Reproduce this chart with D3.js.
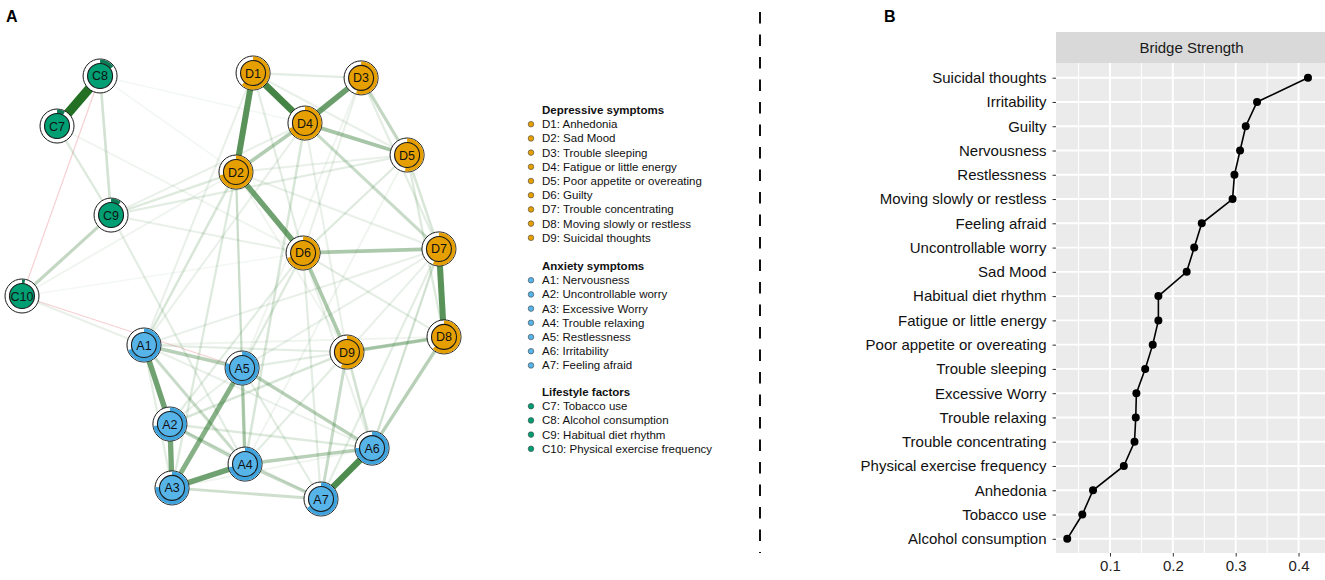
<!DOCTYPE html>
<html><head><meta charset="utf-8">
<script src="https://cdn.jsdelivr.net/npm/d3@7"></script>
<style>
html,body{margin:0;padding:0;background:#fff;}
svg{display:block;font-family:"Liberation Sans",Arial,sans-serif;}
</style></head>
<body><svg id="c" width="1325" height="580"></svg>
<script>
// ---------- Panel A data ----------
const nodeIds   = ["D1","D2","D3","D4","D5","D6","D7","D8","D9","A1","A2","A3","A4","A5","A6","A7","C7","C8","C9","C10"];
const nodeGroup = ["D","D","D","D","D","D","D","D","D","A","A","A","A","A","A","A","C","C","C","C"];
// spring-layout coordinates (qgraph layout space, -1..1, y up)
const layoutX = [0.095,0.014,0.607,0.341,0.825,0.332,0.976,1.000,0.540,-0.422,-0.299,-0.289,0.057,0.043,0.659,0.417,-0.834,-0.630,-0.578,-1.000];
const layoutY = [1.000,0.535,0.977,0.765,0.615,0.155,0.174,-0.239,-0.310,-0.277,-0.648,-0.948,-0.836,-0.385,-0.761,-1.000,0.751,0.986,0.333,-0.047];
// predictability (pie)
const predictability = [0.62,0.72,0.55,0.70,0.52,0.70,0.56,0.62,0.56,0.70,0.73,0.76,0.72,0.80,0.75,0.66,0.08,0.15,0.10,0.03];
// edges: [from, to, weight]
const edges = [
 ["C7","C8",0.50],["D1","D4",0.34],["D1","D2",0.30],["D3","D4",0.27],["D2","D6",0.26],["D7","D8",0.30],
 ["A6","A7",0.32],["A1","A2",0.26],["A2","A3",0.25],["A3","A4",0.26],["A3","A5",0.22],
 ["D4","D5",0.16],["D2","D4",0.14],["D6","D7",0.15],["D6","D9",0.15],["D8","D9",0.14],["D8","A6",0.13],
 ["A1","A5",0.13],["A4","A5",0.13],["A5","A6",0.13],["A4","A6",0.13],["A4","A7",0.11],["A2","A4",0.12],
 ["A1","A4",0.10],["A3","A7",0.09],["D9","A7",0.10],["D9","A6",0.08],["D4","D7",0.10],["D3","D5",0.11],
 ["D5","D7",0.07],["C9","C10",0.11],["C8","C9",0.08],["C7","C9",0.06],["D5","D6",0.06],["A2","D9",0.07],
 ["D2","A1",0.07],["D2","A3",0.06],["D4","A4",0.07],["D6","A5",0.06],["D6","A2",0.05],["D1","D6",0.05],
 ["D1","D3",0.05],["D1","D5",0.04],["D3","D7",0.05],["D3","D6",0.04],["C9","D2",0.06],["C9","D5",0.05],
 ["C9","D4",0.04],["C9","A4",0.05],["C9","D6",0.04],["C10","A1",0.04],["C10","D2",0.03],["C10","D6",0.02],
 ["C8","D2",0.02],["C7","D6",0.03],["C8","D4",0.02],["A1","D9",0.05],["A1","D8",0.03],
 ["A1","D7",0.04],["A5","D8",0.05],["A5","D7",0.04],["A4","D9",0.05],["A7","D6",0.05],["A6","D6",0.04],
 ["A7","D7",0.05],["A6","D7",0.04],["A2","A6",0.06],["A2","A7",0.04],["A3","A6",0.03],["A1","A3",0.05],
 ["A1","A6",0.04],["A2","A5",0.04],["A5","A7",0.05],["A4","D2",0.05],["D2","A5",0.05],["D1","A1",0.04],
 ["D4","A1",0.04],["D3","A5",0.03],["D5","A4",0.03],["D2","D7",0.04],["D2","D5",0.04],["D2","D9",0.03],
 ["D6","D8",0.05],["D5","D8",0.06],["D4","D9",0.04],["D7","A6",0.05],["D7","D9",0.04],
 ["C8","C10",-0.04],["C10","A5",-0.02]
];
const legendGroups = ["Depressive symptoms","Anxiety symptoms","Lifestyle factors"];
const legendD = ["D1: Anhedonia","D2: Sad Mood","D3: Trouble sleeping","D4: Fatigue or little energy","D5: Poor appetite or overeating","D6: Guilty","D7: Trouble concentrating","D8: Moving slowly or restless","D9: Suicidal thoughts"];
const legendA = ["A1: Nervousness","A2: Uncontrollable worry","A3: Excessive Worry","A4: Trouble relaxing","A5: Restlessness","A6: Irritability","A7: Feeling afraid"];
const legendC = ["C7: Tobacco use","C8: Alcohol consumption","C9: Habitual diet rhythm","C10: Physical exercise frequency"];

// ---------- Panel B data ----------
const bridgeNames = ["Suicidal thoughts","Irritability","Guilty","Nervousness","Restlessness","Moving slowly or restless","Feeling afraid","Uncontrollable worry","Sad Mood","Habitual diet rhythm","Fatigue or little energy","Poor appetite or overeating","Trouble sleeping","Excessive Worry","Trouble relaxing","Trouble concentrating","Physical exercise frequency","Anhedonia","Tobacco use","Alcohol consumption"];
const bridgeValues = [0.415,0.334,0.316,0.307,0.298,0.295,0.246,0.234,0.222,0.177,0.177,0.168,0.156,0.142,0.141,0.139,0.122,0.073,0.056,0.032];
const xTicks = [0.1,0.2,0.3,0.4];
const xMinor = [0.05,0.15,0.25,0.35];
const xDomain = [0.0141,0.4405];

// ---------- drawing ----------
const svg = d3.select("#c");
const groupColor = {D:"#E69F00",A:"#56B4E9",C:"#009E73"};
const pieColor = {D:"#E69F00",A:"#3FA3DD",C:"#0B7A55"};

// Panel labels
svg.append("text").attr("x",6).attr("y",22).attr("font-size",16).attr("font-weight","bold").text("A");
svg.append("text").attr("x",884).attr("y",22).attr("font-size",16).attr("font-weight","bold").text("B");

// Network
const nx = d3.scaleLinear().domain([-1,1]).range([22,444]);
const ny = d3.scaleLinear().domain([-1,1]).range([499,73]);
const idx = {}; nodeIds.forEach((d,i)=>idx[d]=i);
const nodes = nodeIds.map((id,i)=>({id,g:nodeGroup[i],x:nx(layoutX[i]),y:ny(layoutY[i]),p:predictability[i]}));
const maxW = d3.max(edges,e=>Math.abs(e[2]));
const alpha = d3.scaleLinear().domain([0,0.4]).range([0,1]).clamp(true);
const width = d3.scaleLinear().domain([0,maxW]).range([1.4,9.2]);
const sorted = edges.slice().sort((a,b)=>Math.abs(a[2])-Math.abs(b[2]));
const gE = svg.append("g");
gE.selectAll("line").data(sorted).join("line")
  .attr("x1",e=>nodes[idx[e[0]]].x).attr("y1",e=>nodes[idx[e[0]]].y)
  .attr("x2",e=>nodes[idx[e[1]]].x).attr("y2",e=>nodes[idx[e[1]]].y)
  .attr("stroke",e=>e[2]>0?"#236F23":"#E8898E")
  .attr("stroke-opacity",e=>e[2]>0?alpha(Math.abs(e[2])):0.4)
  .attr("stroke-width",e=>e[2]>0?width(Math.abs(e[2])):1.2);

const Ro=17, Ri=12.5;
const arc = d3.arc().innerRadius(Ri).outerRadius(Ro-0.5).startAngle(0);
const gN = svg.append("g").selectAll("g").data(nodes).join("g").attr("transform",d=>`translate(${d.x},${d.y})`);
gN.append("circle").attr("r",Ro).attr("fill","#fff").attr("stroke","#1a1a1a").attr("stroke-width",1);
gN.append("path").attr("d",d=>arc({endAngle:2*Math.PI*d.p})).attr("fill",d=>pieColor[d.g]);
gN.append("circle").attr("r",Ri).attr("fill",d=>groupColor[d.g]).attr("stroke","#1a1a1a").attr("stroke-width",1.1);
gN.append("text").attr("text-anchor","middle").attr("dy","0.36em").attr("font-size",12.5).attr("fill","#111").text(d=>d.id);

// Legend
const lg = svg.append("g");
const blocks = [[legendGroups[0],legendD,"D",110],[legendGroups[1],legendA,"A",266],[legendGroups[2],legendC,"C",392]];
blocks.forEach(([title,items,g,y0])=>{
  lg.append("text").attr("x",542).attr("y",y0+4).attr("font-size",11.5).attr("font-weight","bold").attr("fill","#111").text(title);
  items.forEach((t,i)=>{
    const y = y0 + 14.2*(i+1);
    lg.append("circle").attr("cx",531).attr("cy",y).attr("r",2.8).attr("fill",groupColor[g]).attr("stroke","#444").attr("stroke-width",0.6);
    lg.append("text").attr("x",542).attr("y",y+4).attr("font-size",11.5).attr("fill","#111").text(t);
  });
});

// Divider
svg.append("line").attr("x1",760).attr("x2",760).attr("y1",12).attr("y2",553)
  .attr("stroke","#111").attr("stroke-width",2).attr("stroke-dasharray","11.5,11");

// Panel B
const pL=1056,pR=1325,pT=63,pB=553;
const x = d3.scaleLinear().domain(xDomain).range([pL,1324]);
const y = d3.scalePoint().domain(bridgeNames).range([77.7,538.8]);
svg.append("rect").attr("x",pL).attr("y",32).attr("width",pR-pL).attr("height",pT-32).attr("fill","#D9D9D9");
svg.append("text").attr("x",(pL+pR)/2+1).attr("y",53).attr("text-anchor","middle").attr("font-size",15).attr("fill","#1a1a1a").text("Bridge Strength");
svg.append("rect").attr("x",pL).attr("y",pT).attr("width",pR-pL).attr("height",pB-pT).attr("fill","#EBEBEB");
const grid = svg.append("g");
grid.selectAll(".mn").data(xMinor).join("line").attr("x1",d=>x(d)).attr("x2",d=>x(d)).attr("y1",pT).attr("y2",pB).attr("stroke","#fff").attr("stroke-width",1);
grid.selectAll(".mj").data(xTicks).join("line").attr("x1",d=>x(d)).attr("x2",d=>x(d)).attr("y1",pT).attr("y2",pB).attr("stroke","#fff").attr("stroke-width",1.9);
grid.selectAll(".hy").data(bridgeNames).join("line").attr("x1",pL).attr("x2",pR).attr("y1",d=>y(d)).attr("y2",d=>y(d)).attr("stroke","#fff").attr("stroke-width",1.9);

const xAxis = svg.append("g").attr("transform",`translate(0,${pB})`)
  .call(d3.axisBottom(x).tickValues(xTicks).tickFormat(d3.format(".1f")).tickSize(3.5).tickPadding(4));
xAxis.select(".domain").remove();
xAxis.selectAll("line").attr("stroke","#333");
xAxis.selectAll("text").attr("font-size",15).attr("fill","#222").attr("font-family","Liberation Sans, Arial, sans-serif");
const yAxis = svg.append("g").attr("transform",`translate(${pL},0)`)
  .call(d3.axisLeft(y).tickSize(3.5).tickPadding(6));
yAxis.select(".domain").remove();
yAxis.selectAll("line").attr("stroke","#333");
yAxis.selectAll("text").attr("font-size",15).attr("fill","#111").attr("font-family","Liberation Sans, Arial, sans-serif");

const line = d3.line().x((d,i)=>x(bridgeValues[i])).y((d,i)=>y(bridgeNames[i]));
svg.append("path").datum(bridgeNames).attr("d",line).attr("fill","none").attr("stroke","#000").attr("stroke-width",1.6);
svg.append("g").selectAll("circle").data(bridgeNames).join("circle")
  .attr("cx",(d,i)=>x(bridgeValues[i])).attr("cy",d=>y(d)).attr("r",4).attr("fill","#000");
</script></body></html>
